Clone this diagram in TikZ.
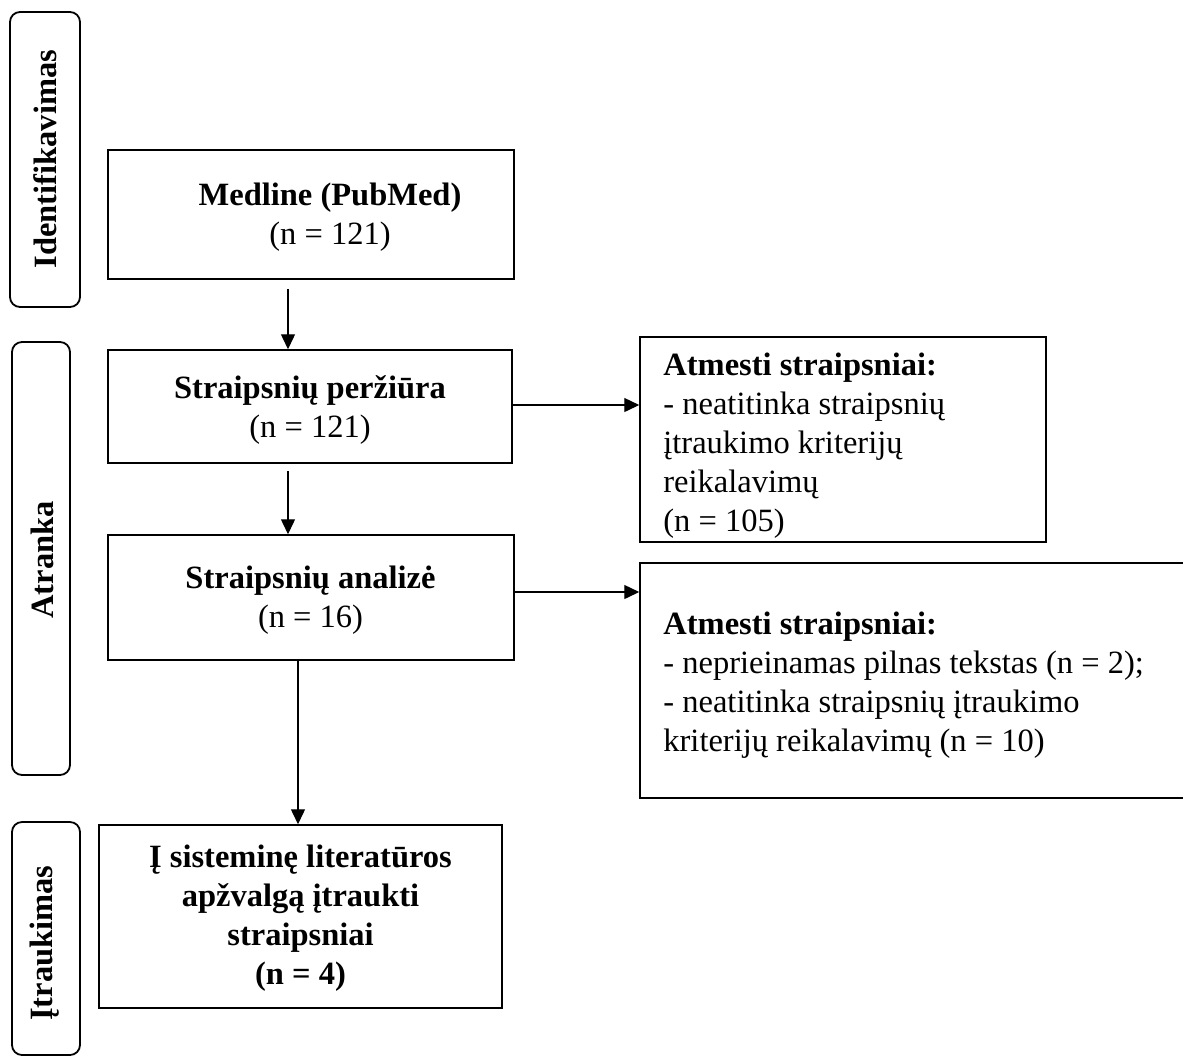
\documentclass[tikz,border=0pt]{standalone}
\usepackage{fontspec}
\setmainfont{Liberation Serif}
\usetikzlibrary{arrows.meta}
\tikzset{
  box/.style={draw, line width=0.75pt, inner sep=0pt, rectangle},
  phase/.style={draw, line width=0.9pt, inner sep=0pt, rounded corners=5pt},
  txt/.style={inner sep=0pt, font=\fontsize{16.25}{19.5}\selectfont},
  arr/.style={line width=0.7pt, -{Triangle[length=7.5pt,width=7pt]}}
}
\begin{document}
\begin{tikzpicture}[x=0.5pt,y=-0.5pt]
\useasboundingbox (0,0) rectangle (1183,1057);
% phase boxes
\node[phase, minimum width=35pt, minimum height=147.5pt] (idf) at (45,159.5) {};
\node[phase, minimum width=29pt, minimum height=216.5pt] (atr) at (41,558.5) {};
\node[phase, minimum width=34pt, minimum height=116.5pt] (itr) at (46,938.5) {};
\node[txt, rotate=90, font=\fontsize{16.25}{19.5}\selectfont\bfseries] (idft) at (45,159) {Identifikavimas};
\node[txt, rotate=90, font=\fontsize{16.25}{19.5}\selectfont\bfseries] (atrt) at (42,560) {Atranka};
\node[txt, rotate=90, font=\fontsize{16.25}{19.5}\selectfont\bfseries] (itrt) at (45,943) {Įtraukimas};
% main boxes
\node[box, minimum width=203pt, minimum height=64.5pt] (med) at (311,214.5) {};
\node[box, minimum width=202pt, minimum height=56.5pt] (per) at (310,406.5) {};
\node[box, minimum width=203pt, minimum height=62.5pt] (ana) at (311,597.5) {};
\node[box, minimum width=201.5pt, minimum height=91.5pt] (fin) at (300.5,916.5) {};
\node[box, minimum width=203pt, minimum height=102.5pt] (at1) at (843,439.5) {};
\node[box, minimum width=275pt, minimum height=117.5pt] (at2) at (915,680.5) {};
% texts
\node[txt, align=center] (medt) at (330,217) {\textbf{Medline (PubMed)}\\(n = 121)};
\node[txt, align=center] (pert) at (310,410) {\textbf{Straipsnių peržiūra}\\(n = 121)};
\node[txt, align=center] (anat) at (310.5,600) {\textbf{Straipsnių analizė}\\(n = 16)};
\node[txt, align=center, font=\fontsize{16.25}{19.5}\selectfont\bfseries] (fint) at (300.5,918.5) {Į sisteminę literatūros\\apžvalgą įtraukti\\straipsniai\\(n = 4)};
\node[txt, align=left, anchor=west] (at1t) at (663,446) {\textbf{Atmesti straipsniai:}\\- neatitinka straipsnių\\įtraukimo kriterijų\\reikalavimų\\(n = 105)};
\node[txt, align=left, anchor=west] (at2t) at (663,685) {\textbf{Atmesti straipsniai:}\\- neprieinamas pilnas tekstas (n = 2);\\- neatitinka straipsnių įtraukimo\\kriterijų reikalavimų (n = 10)};
% connectors
\draw[arr] ([xshift=-11.5pt,yshift=-4.5pt]med.south) -- ([xshift=-11pt]per.north);
\draw[arr] ([xshift=-11pt,yshift=-3.5pt]per.south) -- ([xshift=-11.5pt]ana.north);
\draw[arr] ([xshift=-6.5pt]ana.south) -- ([xshift=-1.25pt]fin.north);
\draw[arr] ([yshift=0.75pt]per.east) -- ([yshift=0.75pt]per.east -| at1.west);
\draw[arr] ([yshift=2.75pt]ana.east) -- ([yshift=2.75pt]ana.east -| at2.west);
\end{tikzpicture}
\end{document}
